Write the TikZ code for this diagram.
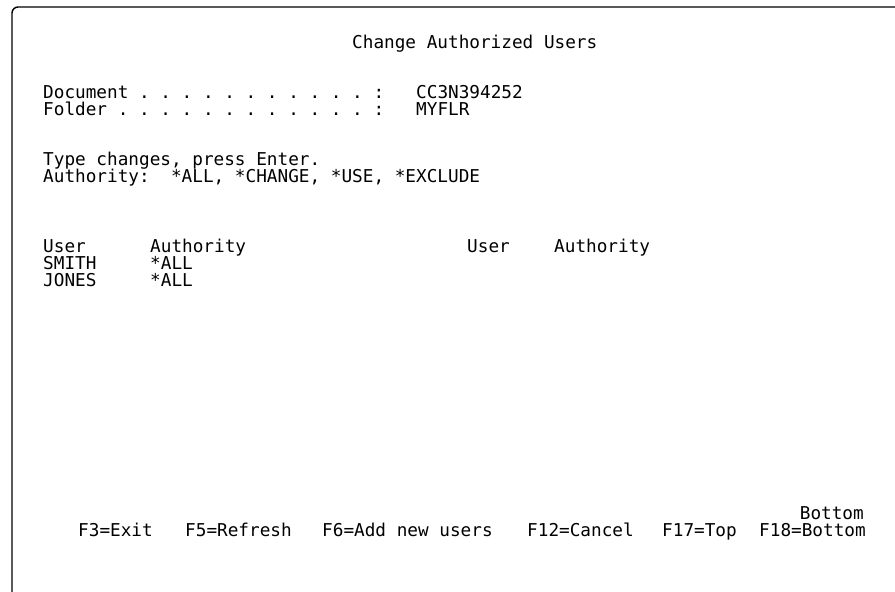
\documentclass[tikz,border=0pt]{standalone}
\usepackage{fontspec}
\setmonofont{DejaVu Sans Mono}
\usetikzlibrary{positioning}
\tikzset{
  frame/.style={draw=black, line width=1.4pt, rounded corners=6pt},
  scr/.style={font=\ttfamily\fontsize{17.7}{20}\selectfont, anchor=base west, inner sep=0pt, text=black},
}

\begin{document}
\begin{tikzpicture}[x=1pt,y=-1pt]
  \useasboundingbox (0,0) rectangle (895,592);

  % screen frame, open at the right and bottom
  \draw[frame] (12,592) -- (12,7) -- (895,7);

  \node[scr] (title) at (352,48.5) {Change Authorized Users};

  \node[scr] (doc)    at (43,98.5)   {Document . . . . . . . . . . . :};
  \node[scr] (docval) at (416,98.5)  {CC3N394252};
  \node[scr] (fld)    at (43,115.5)  {Folder . . . . . . . . . . . . :};
  \node[scr] (fldval) at (416,115.5) {MYFLR};

  \node[scr] (hint)  at (43,165.5) {Type changes, press Enter.};
  \node[scr] (codes) at (43,182.5) {Authority:~~*ALL, *CHANGE, *USE, *EXCLUDE};

  % list columns
  \node[scr] (usr1) at (43,252.5)  {User};
  \node[scr] (aut1) at (150,252.5) {Authority};
  \node[scr] (usr2) at (467,252.5) {User};
  \node[scr] (aut2) at (554,252.5) {Authority};
  \node[scr] (smith)    at (43,269.5)  {SMITH};
  \node[scr] (smithaut) at (150,269.5) {*ALL};
  \node[scr] (jones)    at (43,286.5)  {JONES};
  \node[scr] (jonesaut) at (150,286.5) {*ALL};

  % function keys
  \node[scr, anchor=base east] (more) at (864,519.5) {Bottom};
  \node[scr] (fexit)  at (78,536.5)  {F3=Exit};
  \node[scr] (fref)   at (185,536.5) {F5=Refresh};
  \node[scr] (fadd)   at (322,536.5) {F6=Add new users};
  \node[scr] (fcan)   at (527,536.5) {F12=Cancel};
  \node[scr] (ftop)   at (662,536.5) {F17=Top};
  \node[scr] (fbot)   at (759,536.5) {F18=Bottom};

\end{tikzpicture}
\end{document}
